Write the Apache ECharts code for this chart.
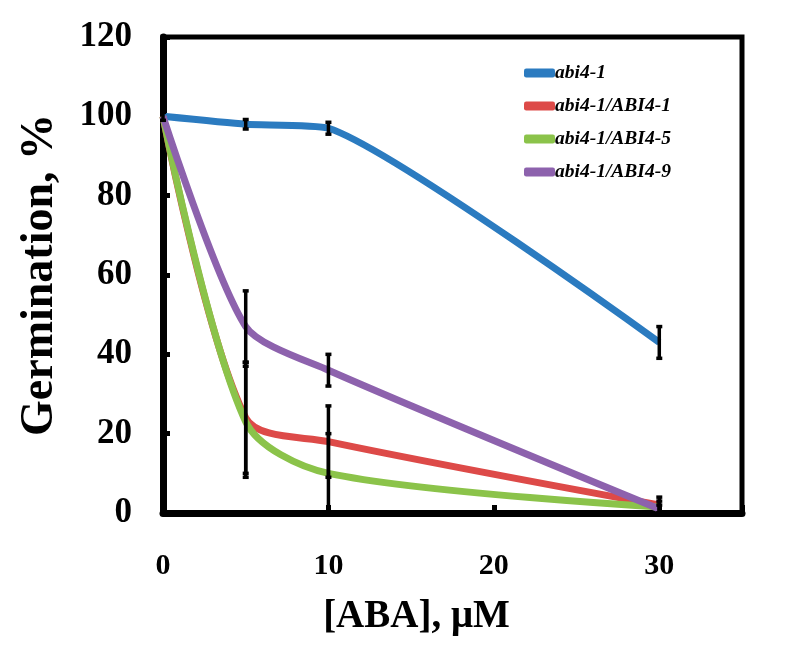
<!DOCTYPE html>
<html><head><meta charset="utf-8">
<script src="https://cdn.jsdelivr.net/npm/echarts@6/dist/echarts.min.js"></script>
<style>html,body{margin:0;padding:0;background:#fff}#c{width:785px;height:665px}</style>
</head><body><div id="c"></div>
<script>
const xValues = [0, 5, 10, 30];
const seriesNames = ['abi4-1', 'abi4-1/ABI4-1', 'abi4-1/ABI4-5', 'abi4-1/ABI4-9'];
const abi41 = [100, 98, 97, 43];
const abi41Err = [1, 1.2, 1.5, 4];
const abi41ABI41 = [100, 24, 18, 2];
const abi41ABI41Err = [0, 14, 9, 2];
const abi41ABI45 = [100, 23, 10, 1.5];
const abi41ABI45Err = [0, 14, 10, 1.5];
const abi41ABI49 = [100, 47, 36, 1];
const abi41ABI49Err = [0, 9, 4, 1];
const xTicks = [0, 10, 20, 30];
const yTicks = [0, 20, 40, 60, 80, 100, 120];

const colors = ['#2b7bc0', '#dd4a48', '#8bc34a', '#8d62ad'];
const smoothness = [0.18, 0.3, 0.3, 0.25];
const values = [abi41, abi41ABI41, abi41ABI45, abi41ABI49];
const errs = [abi41Err, abi41ABI41Err, abi41ABI45Err, abi41ABI49Err];
const serif = '"Liberation Serif", "DejaVu Serif", serif';

const lineSeries = seriesNames.map((n, i) => ({
  name: n, type: 'line', smooth: smoothness[i], symbol: 'none',
  data: xValues.map((x, j) => [x, values[i][j]]),
  lineStyle: { width: 7, color: colors[i] }, itemStyle: { color: colors[i] },
  z: 2 + (i === 3 ? 1 : 0)
}));

const errData = [];
errs.forEach((e, i) => xValues.forEach((x, j) => {
  if (e[j] > 0) errData.push([x, Math.max(0, values[i][j] - e[j]), values[i][j] + e[j]]);
}));

const errSeries = {
  type: 'custom', silent: true, z: 5,
  data: errData,
  renderItem: function (params, api) {
    const x = api.value(0);
    const lo = api.coord([x, api.value(1)]);
    const hi = api.coord([x, api.value(2)]);
    const w = 3;
    const style = { stroke: '#000', lineWidth: 3.5 };
    return { type: 'group', children: [
      { type: 'line', shape: { x1: lo[0], y1: lo[1], x2: hi[0], y2: hi[1] }, style: style },
      { type: 'line', shape: { x1: lo[0] - w, y1: lo[1], x2: lo[0] + w, y2: lo[1] }, style: style },
      { type: 'line', shape: { x1: hi[0] - w, y1: hi[1], x2: hi[0] + w, y2: hi[1] }, style: style }
    ]};
  }
};

const chart = echarts.init(document.getElementById('c'));
chart.setOption({
  animation: false,
  backgroundColor: '#fff',
  grid: { left: 163, top: 37, right: 43, bottom: 152, show: true, borderColor: '#000', borderWidth: 5 },
  legend: {
    orient: 'vertical', left: 519, top: 58, itemWidth: 31, itemHeight: 9, itemGap: 13,
    icon: 'roundRect', data: seriesNames,
    textStyle: { fontFamily: serif, fontStyle: 'italic', fontWeight: 'bold', fontSize: 19.5, color: '#000', padding: [0, 0, 0, -5] }
  },
  xAxis: {
    type: 'value', min: 0, max: 35, interval: 10,
    name: '[ABA], μM', nameLocation: 'middle', nameGap: 84,
    nameTextStyle: { fontFamily: serif, fontWeight: 'bold', fontSize: 39, color: '#000', padding: [0, 72, 0, 0] },
    axisLine: { lineStyle: { color: '#000', width: 7 } },
    axisTick: { inside: true, length: 8, lineStyle: { color: '#000', width: 5 } },
    axisLabel: { margin: 38, fontFamily: serif, fontWeight: 'bold', fontSize: 30, color: '#000',
      formatter: v => xTicks.includes(v) ? String(v) : '' },
    splitLine: { show: false }
  },
  yAxis: {
    type: 'value', min: 0, max: 120, interval: 20,
    name: 'Germination, %', nameLocation: 'middle', nameGap: 100, nameRotate: 90,
    nameTextStyle: { fontFamily: serif, fontWeight: 'bold', fontSize: 46, color: '#000' },
    axisLine: { lineStyle: { color: '#000', width: 7 } },
    axisTick: { inside: true, length: 7, lineStyle: { color: '#000', width: 5 } },
    axisLabel: { margin: 31, fontFamily: serif, fontWeight: 'bold', fontSize: 35, color: '#000',
      formatter: v => yTicks.includes(v) ? String(v) : '' },
    splitLine: { show: false }
  },
  series: lineSeries.concat([errSeries])
});
</script></body></html>
